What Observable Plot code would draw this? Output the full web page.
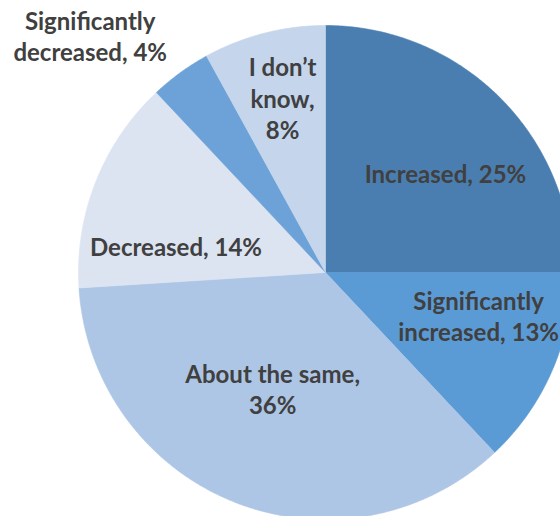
<!DOCTYPE html>
<html>
<head>
<meta charset="utf-8">
<script src="https://cdn.jsdelivr.net/npm/d3@7"></script>
<script src="https://cdn.jsdelivr.net/npm/@observablehq/plot@0.6"></script>
<style>
  html, body { margin: 0; padding: 0; background: #fff; }
  #chart svg { display: block; }
</style>
</head>
<body>
<div id="chart"></div>
<script>
// ---- data ----
const categories = ["Increased", "Significantly increased", "About the same", "Decreased", "Significantly decreased", "I don't know"];
const values = [25, 13, 36, 14, 4, 8];
const labelTexts = ["Increased, 25%", "Significantly\nincreased, 13%", "About the same,\n36%", "Decreased, 14%", "Significantly\ndecreased, 4%", "I don’t\nknow,\n8%"];
const colors = ["#4a7eb0", "#5b9bd5", "#adc6e6", "#dce4f2", "#6ca2d8", "#c4d5ec"];

// ---- layout (label placement: radius fraction, angle offset in degrees) ----
const labelRadius = [0.632, 0.644, 0.516, 0.615, 1.352, 0.729];
const labelAngleOffset = [5.2, -7.7, 2.9, -11.4, -8.8, 0.6];

const total = d3.sum(values);
const toRad = Math.PI / 180;
const pts = [];
const labels = [];
let cum = 0;
values.forEach((v, i) => {
  const a0 = cum / total * 360;
  const a1 = (cum + v) / total * 360;
  cum += v;
  const n = Math.max(2, Math.ceil((a1 - a0) / 0.5));
  pts.push({cat: categories[i], x: 0, y: 0});
  for (let k = 0; k <= n; k++) {
    const a = (a0 + (a1 - a0) * k / n) * toRad;
    pts.push({cat: categories[i], x: Math.sin(a), y: Math.cos(a)});
  }
  pts.push({cat: categories[i], x: 0, y: 0});
  const mid = ((a0 + a1) / 2 + labelAngleOffset[i]) * toRad;
  labels.push({text: labelTexts[i], x: labelRadius[i] * Math.sin(mid), y: labelRadius[i] * Math.cos(mid)});
});

const chart = Plot.plot({
  width: 560,
  height: 516,
  margin: 0,
  x: {domain: [-1, 1], range: [78, 572], axis: null},
  y: {domain: [-1, 1], range: [519, 25], axis: null},
  color: {domain: categories, range: colors},
  style: {background: "#fff", overflow: "hidden"},
  marks: [
    Plot.line(pts, {x: "x", y: "y", z: "cat", fill: "cat", stroke: "cat", strokeWidth: 0.6, curve: "linear"}),
    Plot.text(labels, {
      x: "x", y: "y", text: "text",
      fontSize: 24, fontWeight: "bold", fontFamily: "Lato, 'Open Sans', sans-serif",
      fill: "#404040", lineHeight: 1.3, lineAnchor: "middle"
    })
  ]
});
document.getElementById("chart").appendChild(chart);
</script>
</body>
</html>
